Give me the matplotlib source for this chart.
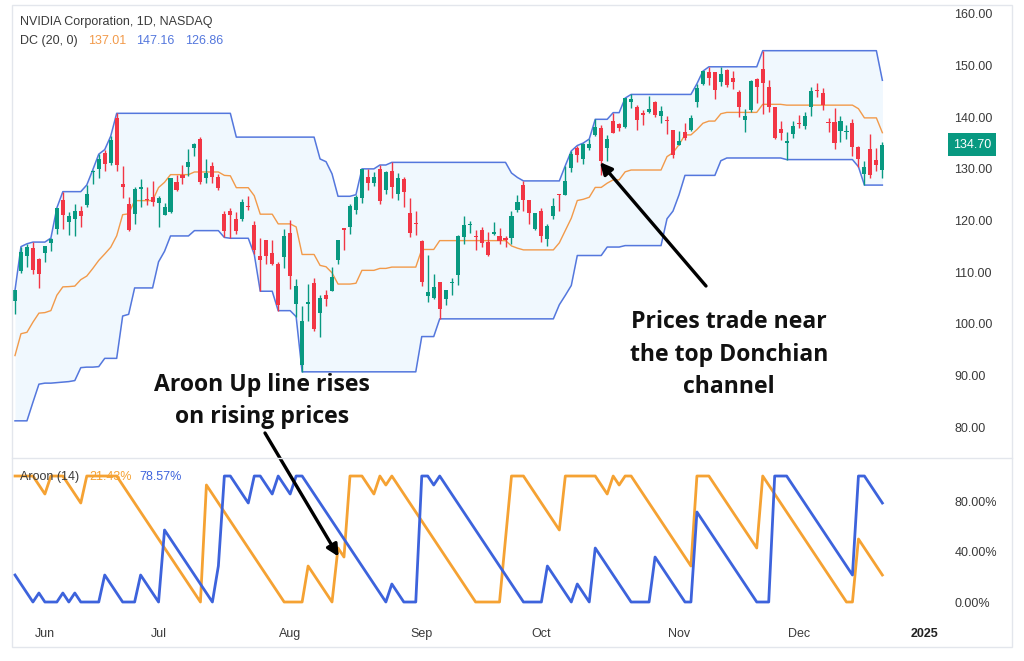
import numpy as np
import pandas as pd
import matplotlib
matplotlib.use("Agg")
import matplotlib.pyplot as plt
from matplotlib.patches import Rectangle
from matplotlib.lines import Line2D
from matplotlib.transforms import blended_transform_factory

# ---------------- data ----------------
start_date = "2024-05-24"
holidays = ["2024-05-27", "2024-06-19", "2024-07-04", "2024-09-02",
            "2024-11-28", "2024-12-25", "2025-01-01"]

opens = [104.45, 110.24, 113.05, 114.65, 112.52, 113.62, 115.72, 118.37, 124.05, 119.77,
         120.37, 121.77, 123.06, 129.39, 129.96, 132.99, 131.14, 139.80, 127.12, 123.24,
         121.20, 126.13, 124.10, 124.58, 123.47, 121.13, 121.66, 127.38, 128.76, 130.35,
         134.03, 135.75, 128.26, 130.56, 128.44, 121.35, 121.85, 120.35, 120.35, 122.78,
         119.17, 113.04, 116.19, 113.69, 111.52, 112.90, 117.53, 103.76, 92.06, 103.84,
         107.81, 102.00, 105.64, 106.32, 112.44, 118.53, 118.76, 121.94, 124.28, 128.40,
         127.32, 130.02, 125.86, 129.57, 125.05, 128.12, 121.36, 119.53, 116.01, 105.41,
         104.99, 108.04, 104.88, 107.81, 109.39, 116.85, 119.08, 116.79, 118.17, 115.89,
         117.35, 117.06, 116.55, 116.52, 122.02, 126.80, 123.97, 118.31, 121.77, 116.44,
         120.92, 124.94, 124.99, 130.26, 134.11, 131.91, 134.01, 136.47, 137.87, 133.98,
         139.34, 138.67, 138.13, 142.91, 142.03, 140.82, 140.93, 143.00, 140.29, 139.54,
         137.60, 134.70, 137.21, 137.45, 142.96, 146.39, 148.77, 148.68, 146.78, 149.07,
         147.64, 144.87, 139.50, 141.32, 147.41, 149.35, 145.93, 141.99, 137.70, 135.01,
         136.78, 138.83, 138.26, 142.00, 145.11, 144.60, 138.97, 139.01, 137.36, 137.08,
         138.94, 134.18, 129.09, 133.86, 131.76, 129.81]

highs = [106.48, 114.94, 115.49, 115.82, 112.72, 115.00, 116.60, 122.45, 125.59, 121.69,
         123.10, 122.87, 126.88, 129.80, 132.84, 133.73, 136.33, 140.76, 130.63, 124.46,
         126.50, 128.12, 126.41, 127.71, 124.84, 123.41, 128.28, 128.85, 130.77, 133.82,
         135.10, 136.15, 131.92, 131.39, 129.04, 121.85, 122.40, 121.60, 124.07, 124.69,
         119.95, 116.63, 116.20, 116.28, 111.99, 118.34, 120.16, 108.72, 103.41, 107.71,
         108.80, 105.50, 106.60, 111.07, 116.23, 118.60, 123.24, 125.00, 130.00, 129.88,
         129.35, 130.75, 129.60, 131.26, 129.20, 128.33, 124.43, 121.75, 116.21, 113.27,
         109.65, 108.15, 106.55, 108.82, 117.19, 120.79, 119.96, 118.18, 118.80, 117.70,
         119.66, 118.62, 116.99, 121.80, 124.94, 127.67, 124.03, 121.50, 122.44, 119.38,
         124.36, 125.04, 130.64, 133.48, 134.52, 135.00, 135.78, 139.60, 138.57, 136.62,
         140.89, 138.90, 143.71, 144.42, 142.43, 141.35, 144.13, 143.14, 142.26, 140.33,
         137.61, 137.31, 138.96, 140.36, 146.49, 148.93, 149.77, 148.85, 149.65, 149.33,
         149.00, 145.24, 141.55, 147.13, 147.56, 152.89, 147.16, 142.05, 139.30, 137.22,
         139.35, 140.45, 140.92, 145.79, 146.54, 145.70, 139.95, 141.82, 140.17, 138.44,
         139.60, 134.40, 131.59, 136.70, 134.03, 135.28]

lows = [101.83, 109.88, 110.90, 109.66, 106.94, 112.00, 114.04, 117.47, 118.32, 117.22,
        117.01, 118.74, 122.57, 127.16, 128.32, 129.58, 130.69, 129.52, 124.30, 118.04,
        119.32, 122.60, 122.92, 122.75, 118.83, 121.03, 121.36, 125.68, 127.04, 128.65,
        132.42, 127.05, 127.22, 127.18, 125.86, 116.72, 116.56, 117.37, 119.86, 122.09,
        113.44, 106.30, 111.58, 111.30, 102.54, 110.88, 106.81, 101.37, 90.69, 100.55,
        98.69, 97.52, 103.43, 106.26, 111.58, 114.37, 117.47, 121.18, 123.42, 125.89,
        126.66, 123.10, 125.22, 124.37, 123.88, 122.64, 116.71, 117.22, 107.29, 104.12,
        104.76, 100.95, 103.69, 105.51, 107.42, 115.38, 117.60, 114.36, 114.83, 113.22,
        117.25, 115.39, 114.86, 115.38, 121.61, 121.80, 119.26, 118.15, 115.79, 115.14,
        120.34, 121.83, 124.95, 129.42, 131.38, 131.00, 133.66, 136.30, 128.74, 131.58,
        136.87, 137.28, 138.00, 141.78, 137.46, 138.46, 140.80, 140.05, 138.90, 136.81,
        132.11, 134.57, 135.57, 137.33, 141.96, 146.17, 146.26, 143.57, 146.01, 145.90,
        145.55, 140.08, 137.15, 140.99, 142.73, 140.70, 141.10, 135.82, 135.67, 131.80,
        136.05, 137.82, 137.73, 140.29, 143.95, 141.31, 137.13, 133.79, 135.21, 135.80,
        132.54, 130.42, 126.86, 128.28, 129.55, 128.22]

closes = [106.47, 113.90, 114.83, 110.50, 109.63, 115.00, 116.44, 122.44, 120.99, 120.89,
          121.79, 120.91, 125.20, 129.61, 131.88, 130.98, 135.58, 130.78, 126.57, 118.11,
          126.09, 126.40, 123.99, 123.54, 124.30, 122.67, 128.28, 125.83, 128.20, 131.38,
          134.91, 127.40, 129.24, 128.44, 126.36, 117.99, 121.09, 117.93, 123.54, 122.59,
          114.25, 112.28, 113.06, 111.59, 103.73, 117.02, 109.21, 107.27, 100.45, 104.25,
          98.91, 104.97, 104.75, 109.02, 116.14, 118.08, 122.86, 124.58, 130.00, 127.25,
          128.50, 123.74, 129.37, 126.46, 128.30, 125.61, 117.59, 119.37, 108.00, 106.21,
          107.21, 102.83, 106.47, 108.10, 116.91, 119.14, 119.10, 116.78, 115.59, 113.37,
          117.87, 116.00, 116.26, 120.87, 123.51, 124.04, 121.40, 121.44, 117.00, 118.85,
          122.85, 124.92, 127.72, 132.89, 132.65, 134.81, 134.80, 138.07, 131.60, 135.72,
          136.93, 138.00, 143.71, 143.59, 139.56, 140.41, 141.54, 140.52, 141.25, 139.34,
          132.76, 135.40, 136.05, 139.91, 145.61, 148.88, 147.63, 145.26, 148.29, 146.27,
          146.76, 141.98, 140.15, 147.01, 145.89, 146.67, 141.95, 136.02, 136.92, 135.34,
          138.25, 138.63, 140.26, 145.14, 145.06, 142.44, 138.81, 135.07, 139.31, 137.34,
          134.25, 132.00, 130.39, 128.91, 130.68, 134.70]

dc_upper = ([106.48, 114.94, 115.49, 115.82, 115.82, 115.82, 116.60, 122.45, 125.59, 125.59,
             125.59, 125.59, 126.88, 129.80, 132.84, 133.73, 136.33]
            + [140.76] * 20 + [136.15] * 14 + [131.92, 131.39, 129.04]
            + [124.69] * 3 + [125.00] + [130.00] * 3 + [130.75] * 2 + [131.26] * 20
            + [129.20, 128.33] + [127.67] * 7 + [130.64, 133.48, 134.52, 135.00, 135.78]
            + [139.60] * 3 + [140.89] * 2 + [143.71] + [144.42] * 11 + [146.49, 148.93]
            + [149.77] * 9 + [152.89] * 20 + [147.16])

dc_lower = ([81.2, 81.2, 81.2, 84.8, 88.3, 88.5, 88.5, 88.6, 88.7, 88.8,
             89.0, 91.5, 91.6, 91.6, 91.7, 93.3, 93.3, 93.3, 101.5, 101.83]
            + [106.94] * 4 + [112.00, 114.04] + [117.01] * 4 + [118.04] * 5 + [116.72]
            + [116.56] * 4 + [113.44] + [106.30] * 3 + [102.54] * 3 + [101.37]
            + [90.69] * 20 + [97.52] * 3 + [100.95] * 20 + [103.69, 105.51, 107.42]
            + [113.22] * 5 + [114.86] * 3 + [115.14] * 7 + [120.34, 121.83, 124.95]
            + [128.74] * 6 + [131.58] + [132.11] * 10 + [131.80] * 12 + [130.42]
            + [126.86] * 4)

aroon_up = [100, 100, 100, 100, 92.86, 85.71, 100, 100, 100, 92.86, 85.71, 78.57, 100, 100,
            100, 100, 100, 100,
            92.86, 85.71, 78.57, 71.43, 64.29, 57.14, 50, 42.86, 35.71, 28.57, 21.43, 14.29, 7.14, 0,
            92.86, 85.71, 78.57, 71.43, 64.29, 57.14, 50, 42.86, 35.71, 28.57, 21.43, 14.29, 7.14, 0,
            0, 0, 0, 28.57, 21.43, 14.29, 7.14, 0, 42.86, 35.71, 100, 100, 100, 92.86, 85.71, 100,
            92.86, 100,
            92.86, 85.71, 78.57, 71.43, 64.29, 57.14, 50, 42.86, 35.71, 28.57, 21.43, 14.29, 7.14, 0,
            0, 0, 0, 0, 50, 100, 100, 100, 92.86, 85.71, 78.57, 71.43, 64.29, 57.14,
            100, 100, 100, 100, 100, 100, 92.86, 85.71, 100, 92.86, 100, 100,
            92.86, 85.71, 78.57, 71.43, 64.29, 57.14, 50, 42.86, 35.71, 28.57,
            100, 100, 100, 92.86, 85.71, 78.57, 71.43, 64.29, 57.14, 50, 42.86,
            100, 92.86, 85.71, 78.57, 71.43, 64.29, 57.14, 50, 42.86, 35.71, 28.57, 21.43, 14.29,
            7.14, 0,
            0, 50, 42.86, 35.71, 28.57, 21.43]

aroon_down = [21.43, 14.29, 7.14, 0, 7.14, 0, 0, 0, 7.14, 0, 7.14, 0, 0, 0, 0,
              21.43, 14.29, 7.14, 0, 0, 0, 21.43, 14.29, 7.14, 0,
              57.14, 50, 42.86, 35.71, 28.57, 21.43, 14.29, 7.14, 0,
              28.57, 100, 100, 92.86, 85.71, 78.57, 100, 100, 92.86, 85.71, 100, 92.86, 85.71,
              100, 100,
              92.86, 85.71, 78.57, 71.43, 64.29, 57.14, 50, 42.86, 35.71, 28.57, 21.43, 14.29,
              7.14, 0,
              14.29, 7.14, 0, 0, 0, 100, 100, 92.86, 100,
              92.86, 85.71, 78.57, 71.43, 64.29, 57.14, 50, 42.86, 35.71, 28.57, 21.43, 14.29,
              7.14, 0,
              0, 0, 0, 28.57, 21.43, 14.29, 7.14, 0, 14.29, 7.14, 0,
              42.86, 35.71, 28.57, 21.43, 14.29, 7.14, 0, 0, 0, 0,
              35.71, 28.57, 21.43, 14.29, 7.14, 0, 0,
              71.43, 64.29, 57.14, 50, 42.86, 35.71, 28.57, 21.43, 14.29, 7.14, 0, 0, 0,
              100, 100, 100, 92.86, 85.71, 78.57, 71.43, 64.29, 57.14, 50, 42.86, 35.71,
              28.57, 21.43,
              100, 100, 92.86, 85.71, 78.57]

month_labels = ["Jun", "Jul", "Aug", "Sep", "Oct", "Nov", "Dec", "2025"]
price_ticks = [80, 90, 100, 110, 120, 130, 140, 150, 160]
aroon_ticks = [0, 40, 80]
last_price = 134.70
title_text = "NVIDIA Corporation, 1D, NASDAQ"
dc_label = "DC (20, 0)"
dc_values = ["137.01", "147.16", "126.86"]
aroon_label = "Aroon (14)"
aroon_values = ["21.43%", "78.57%"]
note_left = ["Aroon Up line rises", "on rising prices"]
note_right = ["Prices trade near", "the top Donchian", "channel"]

# ---------------- styling ----------------
GREEN = "#089981"
RED = "#F23645"
DC_BLUE = "#5477dd"
DC_ORANGE = "#f29a4a"
AR_ORANGE = "#f5a233"
AR_BLUE = "#3d63dc"
TXT = "#3a3a3a"
FRAME = "#e3e6ec"

plt.rcParams["font.family"] = ["Liberation Sans", "DejaVu Sans"]

o = np.array(opens); h = np.array(highs); l = np.array(lows); c = np.array(closes)
n = len(c)
idx = np.arange(n)
up_arr = np.array(dc_upper); lo_arr = np.array(dc_lower)
basis = (up_arr + lo_arr) / 2.0

days = pd.bdate_range(start_date, "2025-01-06", freq="C", holidays=holidays)
mon = days.month.values
tick_pos = [i for i in range(1, len(days)) if mon[i] != mon[i - 1]][:len(month_labels)]

W, H = 1024, 661
def fx(px):
    return px / W
def fy(py):
    return 1 - py / H

fig = plt.figure(figsize=(W / 100, H / 100), dpi=100)
fig.patch.set_facecolor("white")

L, R = 12, 935
ax = fig.add_axes([fx(L), fy(458), fx(R) - fx(L), fy(5) - fy(458)])
ax2 = fig.add_axes([fx(L), fy(617), fx(R) - fx(L), fy(458) - fy(617)])

xlim = (-0.5, 153.8)

# --- main price panel ---
ax.fill_between(idx, lo_arr, up_arr, color="#2196F3", alpha=0.065, lw=0, zorder=1)
ax.plot(idx, up_arr, color=DC_BLUE, lw=1.1, zorder=2)
ax.plot(idx, lo_arr, color=DC_BLUE, lw=1.1, zorder=2)
ax.plot(idx, basis, color=DC_ORANGE, lw=1.0, zorder=2)

cols = np.where(c >= o, GREEN, RED)
ax.vlines(idx, l, h, colors=cols, lw=1.0, zorder=3)
ax.bar(idx, np.maximum(np.abs(c - o), 0.2), bottom=np.minimum(o, c), width=0.68,
       color=cols, lw=0, zorder=4)

ax.set_xlim(*xlim)
ax.set_ylim(74.0, 161.74)
ax.yaxis.tick_right()
ax.set_yticks(price_ticks)
ax.set_yticklabels([f"{v:.2f}" for v in price_ticks])
ax.tick_params(axis="y", length=0, pad=14, labelsize=9, labelcolor=TXT)
ax.set_xticks([])
for s in ax.spines.values():
    s.set_visible(False)

tr = blended_transform_factory(ax.transAxes, ax.transData)
ax.text((953 - L) / (R - L), last_price, f"{last_price:.2f}", transform=tr, ha="left",
        va="center", fontsize=9, color="white",
        bbox=dict(boxstyle="square,pad=0.42", fc=GREEN, ec="none"), clip_on=False)

# --- aroon panel ---
ax2.plot(idx, aroon_up, color=AR_ORANGE, lw=2.0, zorder=2)
ax2.plot(idx, aroon_down, color=AR_BLUE, lw=2.0, zorder=2)
ax2.set_xlim(*xlim)
ax2.set_ylim(-11.9, 114.3)
ax2.yaxis.tick_right()
ax2.set_yticks(aroon_ticks)
ax2.set_yticklabels([f"{v:.2f}%" for v in aroon_ticks])
ax2.tick_params(axis="y", length=0, pad=14, labelsize=9, labelcolor=TXT)
ax2.set_xticks(tick_pos)
ax2.set_xticklabels(month_labels)
ax2.tick_params(axis="x", length=0, pad=8, labelsize=9, labelcolor=TXT)
ax2.get_xticklabels()[-1].set_fontweight("bold")
ax2.get_xticklabels()[-1].set_color("#222222")
for s in ax2.spines.values():
    s.set_visible(False)

# --- frame ---
fig.add_artist(Rectangle((fx(12), fy(647)), fx(1012) - fx(12), fy(5) - fy(647),
                         transform=fig.transFigure, fill=False, ec=FRAME, lw=1.0))
fig.add_artist(Line2D([fx(12), fx(1012)], [fy(458), fy(458)], transform=fig.transFigure,
                      color=FRAME, lw=1.0))

# --- legends ---
fig.text(fx(20), fy(22), title_text, ha="left", va="center", fontsize=9, color=TXT)
fig.text(fx(20), fy(41), dc_label, ha="left", va="center", fontsize=9, color=TXT)
for xpos, val, col in zip([88, 136, 185], dc_values, [DC_ORANGE, DC_BLUE, DC_BLUE]):
    fig.text(fx(xpos), fy(41), val, ha="left", va="center", fontsize=9, color=col)
fig.text(fx(20), fy(477), aroon_label, ha="left", va="center", fontsize=9, color=TXT,
         zorder=5)
for xpos, val, col in zip([89, 139], aroon_values, [AR_ORANGE, AR_BLUE]):
    fig.text(fx(xpos), fy(477), val, ha="left", va="center", fontsize=9, color=col)

# --- annotations ---
afont = dict(ha="center", va="center", fontsize=16.6, fontweight="bold",
             family=["Open Sans", "DejaVu Sans"], color="#111111")
for yy, line in zip([385, 417], note_left):
    fig.text(fx(262), fy(yy), line, **afont)
for yy, line in zip([322, 355, 387], note_right):
    fig.text(fx(729), fy(yy), line, **afont)

arrow = dict(arrowstyle="-|>,head_length=0.7,head_width=0.35", color="black", lw=2.4,
             shrinkA=0, shrinkB=0)
ax.annotate("", xy=(97.8, 131.3), xycoords="data", xytext=(fx(706), fy(286)),
            textcoords="figure fraction", arrowprops=arrow, zorder=6)
ax2.annotate("", xy=(54.1, 36.0), xycoords="data", xytext=(fx(265), fy(433)),
             textcoords="figure fraction", arrowprops=arrow, zorder=6,
             annotation_clip=False)

fig.savefig("out.png", dpi=100)
